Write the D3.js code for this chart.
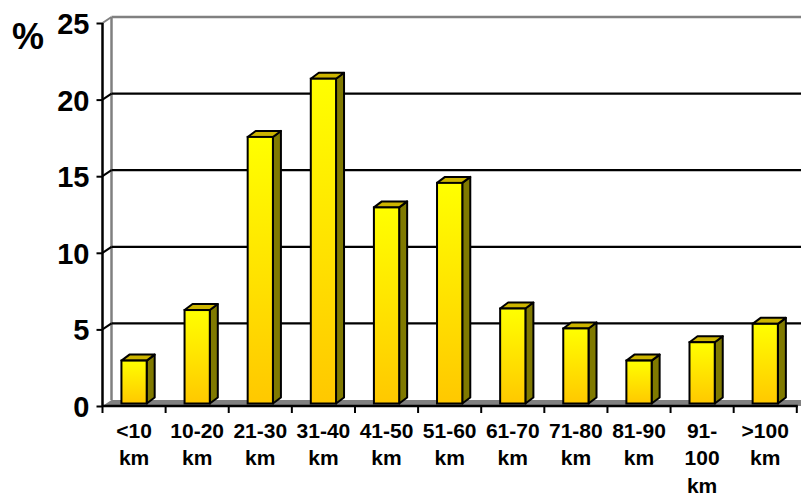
<!DOCTYPE html>
<html>
<head>
<meta charset="utf-8">
<script src="https://cdn.jsdelivr.net/npm/d3@7/dist/d3.min.js"></script>
<style>
  html, body { margin: 0; padding: 0; background: #fff; }
  svg { display: block; font-family: Arial, "Liberation Sans", sans-serif; }
</style>
</head>
<body>
<svg id="chart" width="801" height="495"></svg>
<script>
// Distance classes and their share (%)
const categories = ["<10 km", "10-20 km", "21-30 km", "31-40 km", "41-50 km", "51-60 km",
                    "61-70 km", "71-80 km", "81-90 km", "91-100 km", ">100 km"];
const shares = [2.8, 6.1, 17.4, 21.2, 12.8, 14.4, 6.2, 4.9, 2.8, 4.0, 5.2];
const labelLines = [["<10", "km"], ["10-20", "km"], ["21-30", "km"], ["31-40", "km"],
                    ["41-50", "km"], ["51-60", "km"], ["61-70", "km"], ["71-80", "km"],
                    ["81-90", "km"], ["91-", "100", "km"], [">100", "km"]];
const yTicks = [0, 5, 10, 15, 20, 25];
const yLabel = "%";

const W = 801;
const svg = d3.select("#chart");

// front plane of the 3-D box
const xL = 102.5, xR = 796.8;
const y = d3.scaleLinear().domain([0, 25]).range([406, 23]);
// depth of the walls and of the columns
const DX = 9, DY = 6;
const BDX = 8, BDY = 6;
const barShift = 2.5;          // columns sit slightly behind the front plane
const yb = v => y(v) - barShift;

const x = d3.scaleBand().domain(categories).range([xL, xR]).paddingInner(0).paddingOuter(0);
const barW = x.bandwidth() * 0.4;

// gradient for column fronts
const defs = svg.append("defs");
const grad = defs.append("linearGradient").attr("id", "colGrad")
  .attr("x1", 0).attr("y1", 0).attr("x2", 0).attr("y2", 1);
grad.append("stop").attr("offset", "0%").attr("stop-color", "#FFFF00");
grad.append("stop").attr("offset", "100%").attr("stop-color", "#FFC800");

// floor
svg.append("polygon")
  .attr("points", [[xL, y(0)], [xL + DX, y(0) - DY], [W, y(0) - DY], [W, y(0)]].join(" "))
  .attr("fill", "#808080");

// back wall outline (grey)
svg.append("line").attr("x1", xL + DX).attr("x2", xL + DX)
  .attr("y1", y(25) - DY).attr("y2", y(0) - DY)
  .attr("stroke", "#808080").attr("stroke-width", 2.5);
svg.append("line").attr("x1", xL + DX).attr("x2", W)
  .attr("y1", y(25) - DY).attr("y2", y(25) - DY)
  .attr("stroke", "#808080").attr("stroke-width", 2.5);

// gridlines on the back wall plus side-wall connectors
yTicks.filter(t => t > 0).forEach(t => {
  const top = t === 25;
  svg.append("line")
    .attr("x1", xL).attr("y1", y(t)).attr("x2", xL + DX).attr("y2", y(t) - DY)
    .attr("stroke", top ? "#808080" : "#000").attr("stroke-width", 2);
  if (!top) {
    svg.append("line").attr("x1", xL + DX).attr("x2", W)
      .attr("y1", y(t) - DY).attr("y2", y(t) - DY)
      .attr("stroke", "#000").attr("stroke-width", 2.2);
  }
});

// y axis
const yAxis = d3.axisLeft(y).tickValues(yTicks).tickSize(6).tickPadding(7).tickFormat(d3.format("d"));
const gy = svg.append("g").attr("transform", `translate(${xL},0)`).call(yAxis);
gy.select(".domain").attr("stroke", "#000").attr("stroke-width", 2.5).attr("d", `M0,${y(25)}V${y(0)}`);
gy.selectAll(".tick line").attr("stroke", "#000").attr("stroke-width", 2);
gy.selectAll(".tick text").attr("font-size", 29).attr("font-weight", "bold").attr("fill", "#000")
  .attr("font-family", "Arial, 'Liberation Sans', sans-serif")
  .attr("dy", "0.36em");

svg.append("text").attr("x", 12).attr("y", 49)
  .attr("font-size", 36).attr("font-weight", "bold").text(yLabel);

// columns
const bars = svg.append("g").selectAll("g").data(categories).join("g");
bars.each(function(c, i) {
  const g = d3.select(this);
  const v = shares[i];
  const bx = x(c) + (x.bandwidth() - barW) / 2;
  const top = yb(v), bot = yb(0);
  // side
  g.append("polygon")
    .attr("points", [[bx + barW, top], [bx + barW + BDX, top - BDY], [bx + barW + BDX, bot - BDY], [bx + barW, bot]].join(" "))
    .attr("fill", "#807A00").attr("stroke", "#000").attr("stroke-width", 2).attr("stroke-linejoin", "round");
  // top
  g.append("polygon")
    .attr("points", [[bx, top], [bx + BDX, top - BDY], [bx + barW + BDX, top - BDY], [bx + barW, top]].join(" "))
    .attr("fill", "#CCB400").attr("stroke", "#000").attr("stroke-width", 2).attr("stroke-linejoin", "round");
  // front
  g.append("rect")
    .attr("x", bx).attr("y", top).attr("width", barW).attr("height", bot - top)
    .attr("fill", "url(#colGrad)").attr("stroke", "#000").attr("stroke-width", 2);
});

// category axis: front edge of the floor with boundary ticks
svg.append("line").attr("x1", xL).attr("x2", xR + 1).attr("y1", y(0)).attr("y2", y(0))
  .attr("stroke", "#000").attr("stroke-width", 2.5);
const bounds = categories.map(c => x(c)).concat([xR]);
svg.append("g").selectAll("line").data(bounds).join("line")
  .attr("x1", d => d).attr("x2", d => d).attr("y1", y(0)).attr("y2", y(0) + 7)
  .attr("stroke", "#000").attr("stroke-width", 2);

// category labels
const lab = svg.append("g").selectAll("text").data(categories).join("text")
  .attr("text-anchor", "middle").attr("font-size", 21).attr("font-weight", "bold")
  .attr("x", c => x(c) + x.bandwidth() / 2).attr("y", 438);
lab.each(function(c, i) {
  const t = d3.select(this);
  labelLines[i].forEach((s, k) => {
    t.append("tspan").attr("x", x(c) + x.bandwidth() / 2).attr("dy", k === 0 ? 0 : 27.3).text(s);
  });
});
</script>
</body>
</html>
